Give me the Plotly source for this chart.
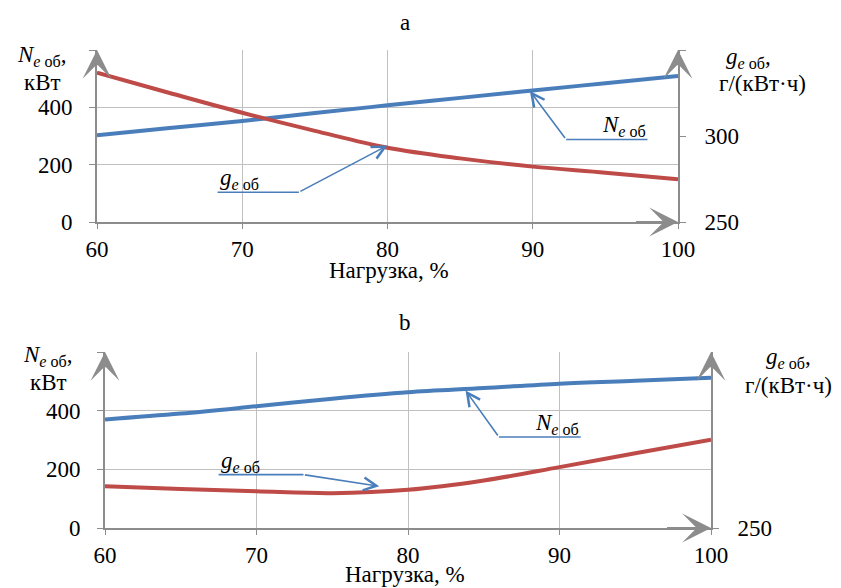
import plotly.graph_objects as go

# ---- data ----
load = [60, 65, 70, 75, 80, 85, 90, 95, 100]
# chart a
N_a = [303, 328, 352, 380, 407, 433, 459, 484, 509]
g_a = [336.8, 325.0, 313.5, 303.0, 293.2, 287.0, 282.2, 278.7, 274.8]
# chart b
N_b = [370, 390, 415, 441, 463, 477, 492, 502, 512]
g_b = [273.7, 272.2, 270.9, 269.8, 271.7, 277.0, 284.6, 292.5, 300.2]

x_ticks = [60, 70, 80, 90, 100]
N_ticks = [0, 200, 400, 600]
N_ticktext = ["0", "200", "400", ""]
x_title = "Нагрузка, %"

BLUE = "#4a7ebb"
RED = "#be4b48"
AX = "#8c8c8c"
GRID = "#c0c0c0"
FONT = "Liberation Serif, Times New Roman, serif"
FS = 23

W, H = 841, 588

def px_x(p):
    return p / W

def px_y(p):
    return 1 - p / H

fig = go.Figure()

# chart a
fig.add_trace(go.Scatter(x=load, y=N_a, mode="lines", line=dict(color=BLUE, width=4, shape="spline"),
                         xaxis="x", yaxis="y", showlegend=False))
fig.add_trace(go.Scatter(x=load, y=g_a, mode="lines", line=dict(color=RED, width=4, shape="spline"),
                         xaxis="x", yaxis="y2", showlegend=False))
# chart b
fig.add_trace(go.Scatter(x=load, y=N_b, mode="lines", line=dict(color=BLUE, width=4, shape="spline"),
                         xaxis="x2", yaxis="y3", showlegend=False))
fig.add_trace(go.Scatter(x=load, y=g_b, mode="lines", line=dict(color=RED, width=4, shape="spline"),
                         xaxis="x2", yaxis="y4", showlegend=False))

tfont = dict(family=FONT, size=FS, color="black")
xcommon = dict(range=[60, 100], tickvals=x_ticks, showgrid=True, gridcolor=GRID, gridwidth=1,
               showline=True, linecolor=AX, linewidth=2, ticks="outside", ticklen=5, tickcolor=AX,
               tickfont=tfont, zeroline=False, automargin=False, ticklabelstandoff=0)
ycommon = dict(range=[0, 600], tickvals=N_ticks, ticktext=N_ticktext, showgrid=True, gridcolor=GRID,
               gridwidth=1, showline=True, linecolor=AX, linewidth=2, ticks="outside", ticklen=6,
               tickcolor=AX, tickfont=tfont, zeroline=False, automargin=False,
               ticklabelstandoff=12)
rcommon = dict(range=[250, 350], showgrid=False, showline=True, linecolor=AX, linewidth=2,
               ticks="outside", ticklen=6, tickcolor=AX, side="right",
               tickfont=tfont, zeroline=False, automargin=False,
               ticklabelstandoff=14)

fig.update_layout(
    width=W, height=H, margin=dict(l=0, r=0, t=0, b=0, autoexpand=False),
    paper_bgcolor="white", plot_bgcolor="white",
    xaxis=dict(domain=[px_x(97), px_x(678)], anchor="y", **xcommon),
    yaxis=dict(domain=[px_y(222), px_y(50)], anchor="x", **ycommon),
    yaxis2=dict(overlaying="y", anchor="x", tickvals=[250, 300, 350], ticktext=["250", "300", ""], **rcommon),
    xaxis2=dict(domain=[px_x(105), px_x(711)], anchor="y3", **xcommon),
    yaxis3=dict(domain=[px_y(528), px_y(352)], anchor="x2", **ycommon),
    yaxis4=dict(overlaying="y3", anchor="x2", tickvals=[250], ticktext=["250"], **rcommon),
)

ann = []
tf = tfont

def txt(text, x, y, size=FS):
    return dict(text=text, x=px_x(x), y=px_y(y), xref="paper", yref="paper", showarrow=False,
                font=dict(family=FONT, size=size, color="black"), xanchor="center", yanchor="middle")

# titles a / b
ann.append(txt("a", 405, 22))
ann.append(txt("b", 405, 322))
# x axis titles
ann.append(txt(x_title, 389, 270, 23))
ann.append(txt(x_title, 405, 574, 23))

N_lbl = "<i>N</i><sub><i>e</i> об</sub>,"
g_lbl = "<i>g</i><sub><i>e</i> об</sub>,"
# axis captions
for (xl, yl1, yl2, xr1, xr2, yr1, yr2) in [(42, 56, 82, 748, 762, 58, 84),
                                           (48, 356, 382, 788, 788, 358, 385)]:
    ann.append(txt(N_lbl, xl, yl1))
    ann.append(txt("кВт", xl, yl2))
    ann.append(txt(g_lbl, xr1, yr1))
    ann.append(txt("г/(кВт·ч)", xr2, yr2))

# axis arrowheads
for xa, ya in [("x", "y"), ("x2", "y3")]:
    for (tx, ty, sx, sy) in [(60, 600, 60, 560), (100, 600, 100, 560), (100, 0, 97, 0)]:
        ann.append(dict(x=tx, y=ty, ax=sx, ay=sy, xref=xa, yref=ya, axref=xa, ayref=ya, text="",
                        showarrow=True, arrowhead=3, arrowsize=2.4, arrowwidth=2, arrowcolor=AX))

# callouts: (xaxis, yaxis, underline x0, x1, y, tip x, tip y, label, label x, label anchor)
callouts = [
    ("x", "y", 68.3, 73.9, 104, 80.0, 267, "<i>g</i><sub><i>e</i> об</sub>", 68.3, "left"),
    ("x", "y", 92.3, 97.9, 288, 89.8, 457, "<i>N</i><sub><i>e</i> об</sub>", 97.9, "right"),
    ("x2", "y3", 67.5, 73.1, 182, 78.1, 142, "<i>g</i><sub><i>e</i> об</sub>", 67.5, "left"),
    ("x2", "y3", 86.0, 91.4, 310, 83.8, 469, "<i>N</i><sub><i>e</i> об</sub>", 91.4, "right"),
]
for xa, ya, u0, u1, uy, tx, ty, lbl, lx, anc in callouts:
    fig.add_shape(type="line", x0=u0, x1=u1, y0=uy, y1=uy, xref=xa, yref=ya,
                  line=dict(color=BLUE, width=1.6))
    bx = u1 if anc == "left" else u0
    ann.append(dict(x=tx, y=ty, ax=bx, ay=uy, xref=xa, yref=ya, axref=xa, ayref=ya, text="",
                    showarrow=True, arrowhead=5, arrowsize=1.6, arrowwidth=1.6, arrowcolor=BLUE))
    ann.append(dict(text=lbl, x=lx, y=uy, xref=xa, yref=ya, xanchor=anc, yanchor="bottom",
                    showarrow=False, font=tf, yshift=-3))

fig.update_layout(annotations=ann)
fig.write_html("out.html")
